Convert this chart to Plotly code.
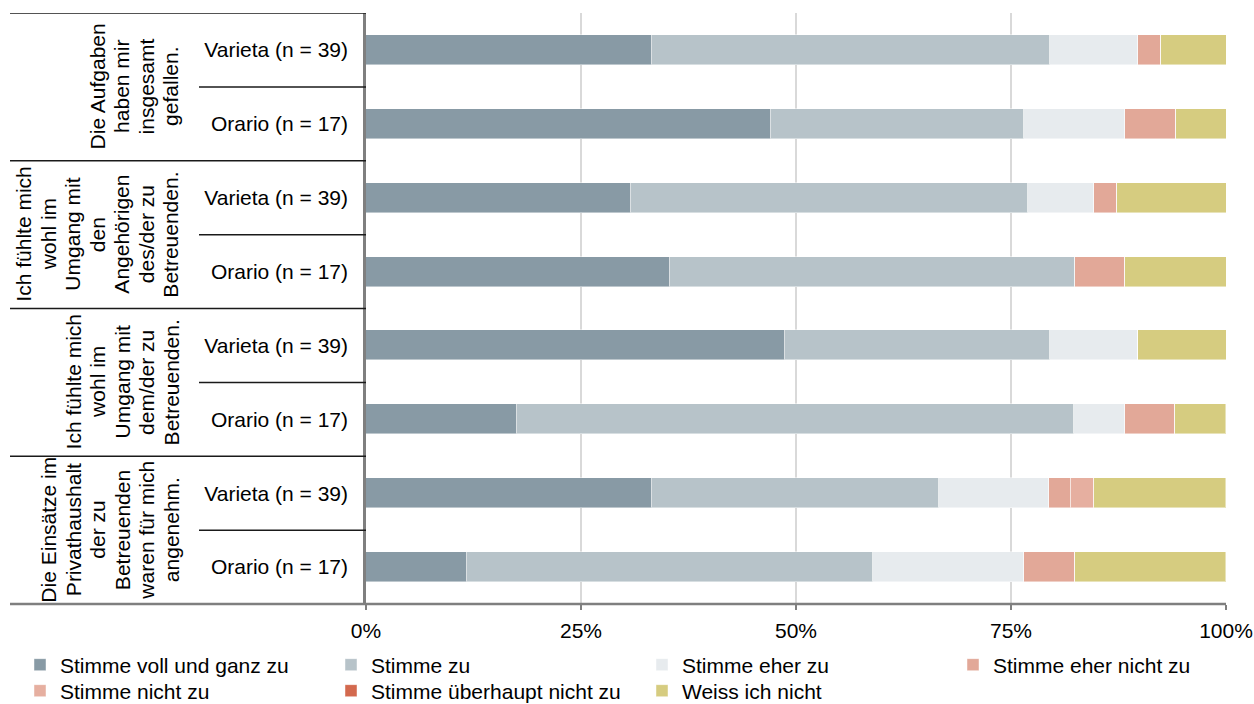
import plotly.graph_objects as go

# ---------------- data (top to bottom) ----------------
row_labels = ["Varieta (n = 39)", "Orario (n = 17)",
              "Varieta (n = 39)", "Orario (n = 17)",
              "Varieta (n = 39)", "Orario (n = 17)",
              "Varieta (n = 39)", "Orario (n = 17)"]

group_lines = [
    ["Die Aufgaben", "haben mir", "insgesamt", "gefallen."],
    ["Ich fühlte mich", "wohl im", "Umgang mit", "den", "Angehörigen", "des/der zu", "Betreuenden."],
    ["Ich fühlte mich", "wohl im", "Umgang mit", "dem/der zu", "Betreuenden."],
    ["Die Einsätze im", "Privathaushalt", "der zu", "Betreuenden", "waren für mich", "angenehm."],
]

series_names = ["Stimme voll und ganz zu", "Stimme zu", "Stimme eher zu", "Stimme eher nicht zu",
                "Stimme nicht zu", "Stimme überhaupt nicht zu", "Weiss ich nicht"]

voll_und_ganz = [33.3, 47.1, 30.8, 35.3, 48.7, 17.6, 33.3, 11.8]
stimme_zu = [46.2, 29.4, 46.2, 47.1, 30.8, 64.7, 33.3, 47.1]
eher_zu = [10.3, 11.8, 7.7, 0.0, 10.3, 5.9, 12.8, 17.6]
eher_nicht_zu = [2.6, 5.9, 2.6, 5.9, 0.0, 5.9, 2.6, 5.9]
nicht_zu = [0.0, 0.0, 0.0, 0.0, 0.0, 0.0, 2.6, 0.0]
ueberhaupt_nicht_zu = [0.0, 0.0, 0.0, 0.0, 0.0, 0.0, 0.0, 0.0]
weiss_nicht = [7.7, 5.9, 12.8, 11.8, 10.3, 5.9, 15.4, 17.6]

x_tick_vals = [0, 25, 50, 75, 100]
x_tick_text = ["0%", "25%", "50%", "75%", "100%"]

# ---------------- styling ----------------
colors = ["#889AA5", "#B7C3C9", "#E7EBEE", "#E2A898", "#E6AFA0", "#D3694E", "#D6CC80"]
series_values = [voll_und_ganz, stimme_zu, eher_zu, eher_nicht_zu, nicht_zu,
                 ueberhaupt_nicht_zu, weiss_nicht]
legend_ids = ["legend", "legend", "legend", "legend", "legend2", "legend2", "legend2"]
legend_widths = [266, 266, 266, None, 266, 266, None]

FONT = "Arial, Liberation Sans, sans-serif"
W, H = 1254, 704
ML, MR, MT, MB = 366, 28, 13, 100
PW = W - ML - MR
PH = H - MT - MB

def px_to_paper_x(px):
    return (px - ML) / PW

def px_to_paper_y(py):
    return 1 - (py - MT) / PH

positions = list(range(len(row_labels)))

fig = go.Figure()
for name, vals, col, lg, lw in zip(series_names, series_values, colors, legend_ids, legend_widths):
    kw = dict(legendwidth=lw) if lw else {}
    fig.add_trace(go.Bar(
        name=name, y=positions, x=vals, orientation="h",
        marker=dict(color=col, line=dict(color="rgba(255,255,255,0.45)", width=1)),
        width=0.405, legend=lg, **kw))

shapes = []
n_rows = len(row_labels)
for b in range(0, n_rows, 2):
    shapes.append(dict(type="line", xref="paper", yref="y",
                       x0=px_to_paper_x(10), x1=0, y0=b - 0.5, y1=b - 0.5,
                       line=dict(color="#1a1a1a", width=1.5)))
for b in range(1, n_rows, 2):
    shapes.append(dict(type="line", xref="paper", yref="y",
                       x0=px_to_paper_x(199), x1=0, y0=b - 0.5, y1=b - 0.5,
                       line=dict(color="#1a1a1a", width=1.5)))
shapes.append(dict(type="line", xref="paper", yref="paper",
                   x0=px_to_paper_x(10), x1=1, y0=0, y1=0,
                   line=dict(color="#7F7F7F", width=2.5)))

annotations = []
LAST_LINE_PX = 171
LINE_STEP = 24.5
for g, lines in enumerate(group_lines):
    yc = 2 * g + 0.5
    n = len(lines)
    for i, t in enumerate(lines):
        px = LAST_LINE_PX - LINE_STEP * (n - 1 - i)
        annotations.append(dict(text=t, xref="paper", yref="y",
                                x=px_to_paper_x(px), y=yc, textangle=-90,
                                xanchor="center", yanchor="middle", showarrow=False,
                                font=dict(family=FONT, size=21, color="#000000")))

fig.update_layout(
    width=W, height=H,
    margin=dict(l=ML, r=MR, t=MT, b=MB, autoexpand=False),
    paper_bgcolor="white", plot_bgcolor="white",
    barmode="stack", bargap=0,
    font=dict(family=FONT, size=21, color="#000000"),
    showlegend=True,
    legend=dict(orientation="h", xanchor="left", yanchor="middle",
                x=px_to_paper_x(20), y=px_to_paper_y(665),
                font=dict(family=FONT, size=21, color="#000000"),
                bgcolor="rgba(0,0,0,0)", itemwidth=30, traceorder="normal"),
    legend2=dict(orientation="h", xanchor="left", yanchor="middle",
                 x=px_to_paper_x(20), y=px_to_paper_y(691),
                 font=dict(family=FONT, size=21, color="#000000"),
                 bgcolor="rgba(0,0,0,0)", itemwidth=30, traceorder="normal"),
    xaxis=dict(range=[0, 100], tickvals=x_tick_vals, ticktext=x_tick_text,
               showgrid=True, gridcolor="#D9D9D9", gridwidth=2,
               zeroline=False, showline=False,
               ticks="outside", ticklen=5, tickcolor="#7F7F7F", tickwidth=1.5,
               ticklabelstandoff=3,
               tickfont=dict(family=FONT, size=21, color="#000000"), fixedrange=True),
    yaxis=dict(range=[n_rows - 0.5, -0.5], tickvals=positions, ticktext=row_labels,
               showgrid=False, zeroline=False, showline=True, linecolor="#7F7F7F", linewidth=2.5,
               ticks="", ticklabelstandoff=11,
               tickfont=dict(family=FONT, size=21, color="#000000"), fixedrange=True),
    shapes=shapes, annotations=annotations,
)

fig.write_html(
    "out.html",
    config={"displayModeBar": False},
    post_script="document.body.style.margin='0';document.body.style.overflow='hidden';",
)
